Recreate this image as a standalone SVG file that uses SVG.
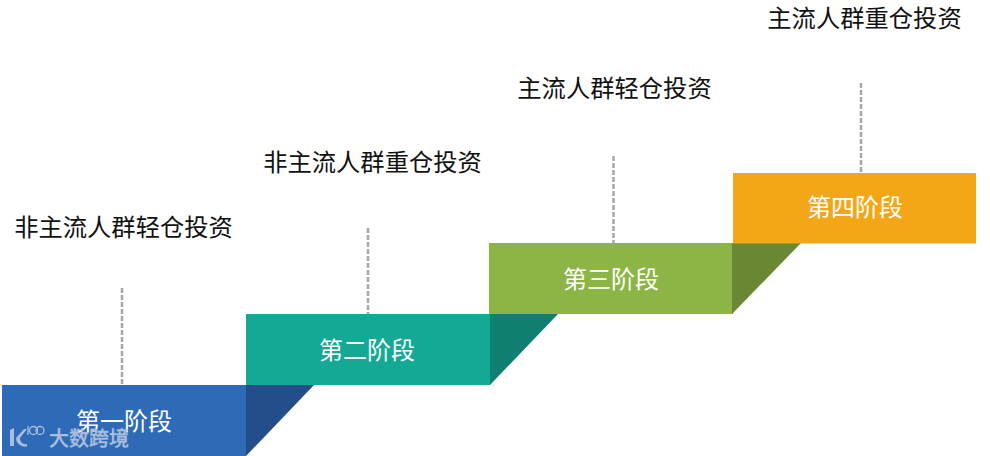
<svg xmlns="http://www.w3.org/2000/svg" width="990" height="456" viewBox="0 0 990 456">
<style>
.l{font-family:"Liberation Sans","Noto Sans CJK SC",sans-serif;font-size:24.300px;fill:#111;text-anchor:middle}
.n{font-family:"Liberation Sans","Noto Sans CJK SC",sans-serif;font-size:24px;fill:#fff;text-anchor:middle}
.d{stroke:#a6a6a6;stroke-width:2.500;stroke-dasharray:5 2;fill:none}
</style>
<rect width="990" height="456" fill="#fff"/>
<g id="connectors">
<line class="d" x1="122" y1="288" x2="122" y2="385"/>
<line class="d" x1="368" y1="228" x2="368" y2="314"/>
<line class="d" x1="613.500" y1="156" x2="613.500" y2="243"/>
<line class="d" x1="861" y1="83" x2="861" y2="173"/>
</g>
<g id="stage1"><rect x="2" y="385" width="244" height="71" fill="#2e6ab5"/><polygon points="246,385 314,385 246,456" fill="#234e8a"/><text class="n" x="124" y="430">第一阶段</text></g>
<g id="stage2"><rect x="246" y="314" width="244" height="71" fill="#14a995"/><polygon points="490,314 558,314 490,385" fill="#0f7f70"/><text class="n" x="367" y="359">第二阶段</text></g>
<g id="stage3"><rect x="489" y="243" width="244" height="71" fill="#8cb545"/><polygon points="732,243 801,243 732,314" fill="#6a8734"/><text class="n" x="611" y="288">第三阶段</text></g>
<g id="stage4"><rect x="733" y="173" width="243" height="70.500" fill="#f4a716"/><text class="n" x="855" y="216">第四阶段</text></g>
<g id="label1"><text class="l" x="123.500" y="236">非主流人群轻仓投资</text></g>
<g id="label2"><text class="l" x="372.500" y="171">非主流人群重仓投资</text></g>
<g id="label3"><text class="l" x="614.500" y="97">主流人群轻仓投资</text></g>
<g id="label4"><text class="l" x="864.500" y="27">主流人群重仓投资</text></g>
<g id="watermark" fill="#a9bedd">
<path d="M10 430l4-2v18h-4zM16 438l8-9h3l-7 9c0 4 3 7 7 6v2.500c-6 .5-11-3-11-8.500z"/>
<g fill="none" stroke="#a9bedd" stroke-width="1.300"><path d="M28 426v9"/><circle cx="33.500" cy="430.500" r="4"/><circle cx="40" cy="430.500" r="4"/></g>
<text x="49" y="446" font-family="'Liberation Sans','Noto Sans CJK SC',sans-serif" font-size="20" font-weight="500" stroke="#a9bedd" stroke-width="0.300">大数跨境</text>
</g>
</svg>
